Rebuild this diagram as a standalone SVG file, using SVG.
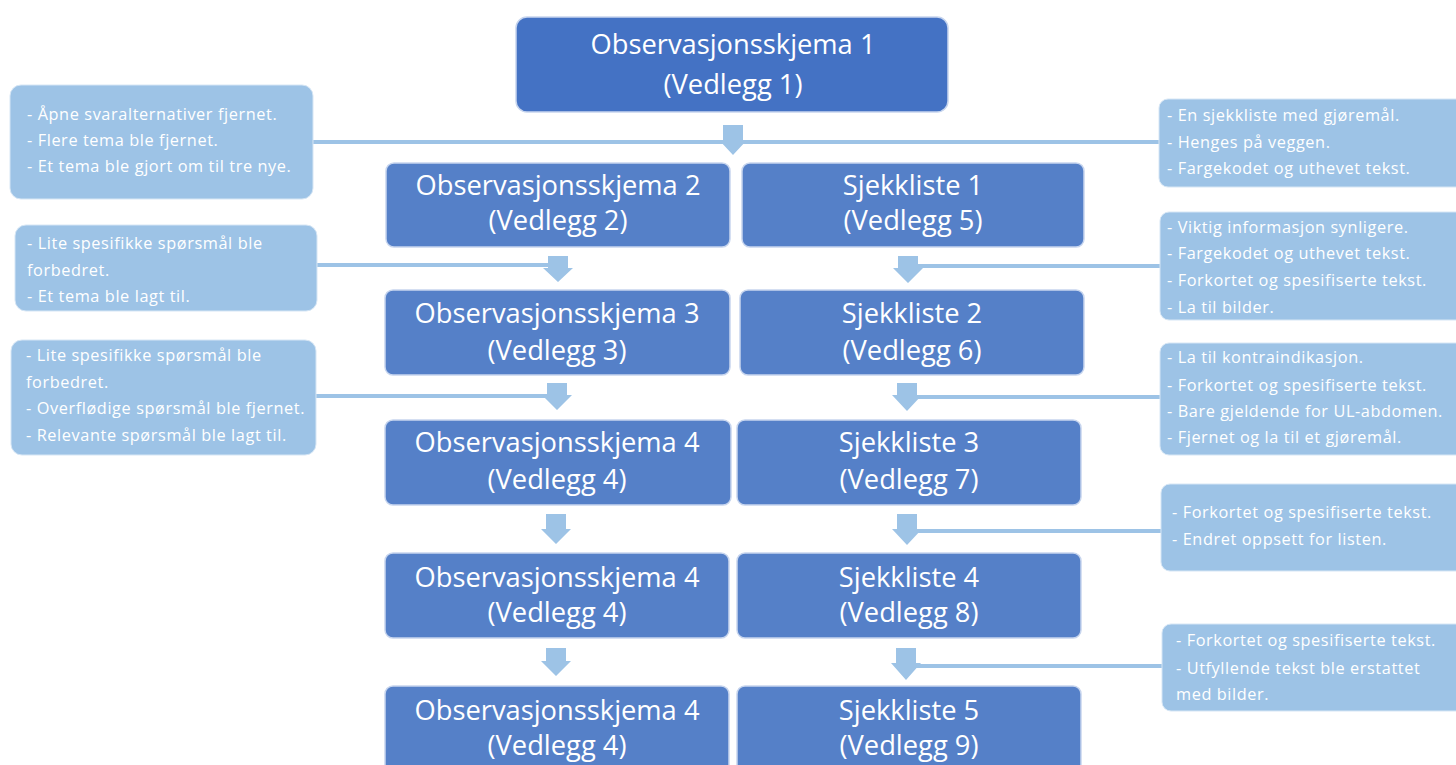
<svg xmlns="http://www.w3.org/2000/svg" width="1456" height="765" viewBox="0 0 1456 765">
<defs>
<style>
.box{fill:#5580c8;stroke:#c7d5ee;stroke-width:1.5}
.top{fill:#4472c4;stroke:#c7d5ee;stroke-width:1.5}
.note{fill:#9dc3e6;stroke:#d6e6f5;stroke-width:1}
.bt{font-family:"Open Sans",Lato,sans-serif;font-size:27.3px;fill:#ffffff;text-anchor:middle}
.nt{font-family:"Open Sans",Lato,sans-serif;font-size:16.3px;letter-spacing:0.6px;fill:#ffffff}
.ln{stroke:#9dc3e6;stroke-width:4;fill:none}
.ar{fill:#9dc3e6}
</style>
</defs>
<rect width="1456" height="765" fill="#ffffff"/>
<g id="connectors">
<line class="ln" x1="313" y1="142" x2="1160" y2="142"/>
<line class="ln" x1="317" y1="265" x2="556" y2="265"/>
<line class="ln" x1="910" y1="266" x2="1160" y2="266"/>
<line class="ln" x1="316" y1="396" x2="555" y2="396"/>
<line class="ln" x1="909" y1="397" x2="1160" y2="397"/>
<line class="ln" x1="909" y1="531" x2="1161" y2="531"/>
<line class="ln" x1="908" y1="666" x2="1162" y2="666"/>
<path class="ar" d="M723,125 h20 v15 h4 l-14,15 l-14,-15 h4 z"/>
<path class="ar" d="M548,256 h20 v12 h5 l-15,14 l-15,-14 h5 z"/>
<path class="ar" d="M898,256 h20 v12 h5 l-15,15 l-15,-15 h5 z"/>
<path class="ar" d="M547,383 h20 v12 h5 l-15,15 l-15,-15 h5 z"/>
<path class="ar" d="M897,383 h20 v12 h5 l-15,16 l-15,-16 h5 z"/>
<path class="ar" d="M546,514 h20 v15 h5 l-15,15 l-15,-15 h5 z"/>
<path class="ar" d="M897,514 h20 v15 h5 l-15,16 l-15,-16 h5 z"/>
<path class="ar" d="M546,648 h20 v13 h5 l-15,15 l-15,-15 h5 z"/>
<path class="ar" d="M896,648 h20 v15 h5 l-15,17 l-15,-17 h5 z"/>
</g>
<g id="n-obs1">
<rect class="top" x="516" y="17" width="432" height="95" rx="11"/>
<text class="bt" x="733" y="54">Observasjonsskjema 1</text>
<text class="bt" x="733" y="94">(Vedlegg 1)</text>
</g>
<g id="n-obs2">
<rect class="box" x="386" y="163" width="344" height="84" rx="8"/>
<text class="bt" x="558" y="195">Observasjonsskjema 2</text>
<text class="bt" x="558" y="230">(Vedlegg 2)</text>
</g>
<g id="n-sj1">
<rect class="box" x="742" y="163" width="342" height="84" rx="8"/>
<text class="bt" x="913" y="195">Sjekkliste 1</text>
<text class="bt" x="913" y="230">(Vedlegg 5)</text>
</g>
<g id="n-obs3">
<rect class="box" x="385" y="290" width="345" height="85" rx="8"/>
<text class="bt" x="557" y="323">Observasjonsskjema 3</text>
<text class="bt" x="557" y="360">(Vedlegg 3)</text>
</g>
<g id="n-sj2">
<rect class="box" x="740" y="290" width="344" height="85" rx="8"/>
<text class="bt" x="912" y="323">Sjekkliste 2</text>
<text class="bt" x="912" y="360">(Vedlegg 6)</text>
</g>
<g id="n-obs4a">
<rect class="box" x="385" y="420" width="346" height="85" rx="8"/>
<text class="bt" x="557" y="452">Observasjonsskjema 4</text>
<text class="bt" x="557" y="489">(Vedlegg 4)</text>
</g>
<g id="n-sj3">
<rect class="box" x="737" y="420" width="344" height="85" rx="8"/>
<text class="bt" x="909" y="452">Sjekkliste 3</text>
<text class="bt" x="909" y="489">(Vedlegg 7)</text>
</g>
<g id="n-obs4b">
<rect class="box" x="385" y="553" width="344" height="85" rx="8"/>
<text class="bt" x="557" y="587">Observasjonsskjema 4</text>
<text class="bt" x="557" y="622">(Vedlegg 4)</text>
</g>
<g id="n-sj4">
<rect class="box" x="737" y="553" width="344" height="85" rx="8"/>
<text class="bt" x="909" y="587">Sjekkliste 4</text>
<text class="bt" x="909" y="622">(Vedlegg 8)</text>
</g>
<g id="n-obs4c">
<rect class="box" x="385" y="686" width="344" height="95" rx="8"/>
<text class="bt" x="557" y="720">Observasjonsskjema 4</text>
<text class="bt" x="557" y="755">(Vedlegg 4)</text>
</g>
<g id="n-sj5">
<rect class="box" x="737" y="686" width="344" height="95" rx="8"/>
<text class="bt" x="909" y="720">Sjekkliste 5</text>
<text class="bt" x="909" y="755">(Vedlegg 9)</text>
</g>
<g id="note-l1">
<rect class="note" x="10" y="85" width="303" height="114" rx="11"/>
<text class="nt" x="27" y="120">- Åpne svaralternativer fjernet.</text>
<text class="nt" x="27" y="146">- Flere tema ble fjernet.</text>
<text class="nt" x="27" y="172">- Et tema ble gjort om til tre nye.</text>
</g>
<g id="note-l2">
<rect class="note" x="15" y="225" width="302" height="86" rx="11"/>
<text class="nt" x="27" y="249">- Lite spesifikke spørsmål ble</text>
<text class="nt" x="27" y="276">forbedret.</text>
<text class="nt" x="27" y="302">- Et tema ble lagt til.</text>
</g>
<g id="note-l3">
<rect class="note" x="11" y="340" width="305" height="115" rx="11"/>
<text class="nt" x="26" y="361">- Lite spesifikke spørsmål ble</text>
<text class="nt" x="26" y="388">forbedret.</text>
<text class="nt" x="26" y="414">- Overflødige spørsmål ble fjernet.</text>
<text class="nt" x="26" y="441">- Relevante spørsmål ble lagt til.</text>
</g>
<g id="note-r1">
<rect class="note" x="1159" y="99" width="310" height="88" rx="9"/>
<text class="nt" x="1167" y="121">- En sjekkliste med gjøremål.</text>
<text class="nt" x="1167" y="148">- Henges på veggen.</text>
<text class="nt" x="1167" y="174">- Fargekodet og uthevet tekst.</text>
</g>
<g id="note-r2">
<rect class="note" x="1160" y="212" width="310" height="108" rx="9"/>
<text class="nt" x="1167" y="233">- Viktig informasjon synligere.</text>
<text class="nt" x="1167" y="259">- Fargekodet og uthevet tekst.</text>
<text class="nt" x="1167" y="286">- Forkortet og spesifiserte tekst.</text>
<text class="nt" x="1167" y="313">- La til bilder.</text>
</g>
<g id="note-r3">
<rect class="note" x="1160" y="343" width="310" height="112" rx="9"/>
<text class="nt" x="1167" y="363">- La til kontraindikasjon.</text>
<text class="nt" x="1167" y="391">- Forkortet og spesifiserte tekst.</text>
<text class="nt" x="1167" y="417">- Bare gjeldende for UL-abdomen.</text>
<text class="nt" x="1167" y="443">- Fjernet og la til et gjøremål.</text>
</g>
<g id="note-r4">
<rect class="note" x="1161" y="484" width="310" height="87" rx="9"/>
<text class="nt" x="1172" y="518">- Forkortet og spesifiserte tekst.</text>
<text class="nt" x="1172" y="545">- Endret oppsett for listen.</text>
</g>
<g id="note-r5">
<rect class="note" x="1162" y="624" width="310" height="87" rx="9"/>
<text class="nt" x="1176" y="646">- Forkortet og spesifiserte tekst.</text>
<text class="nt" x="1176" y="674">- Utfyllende tekst ble erstattet</text>
<text class="nt" x="1176" y="700">med bilder.</text>
</g>
</svg>
